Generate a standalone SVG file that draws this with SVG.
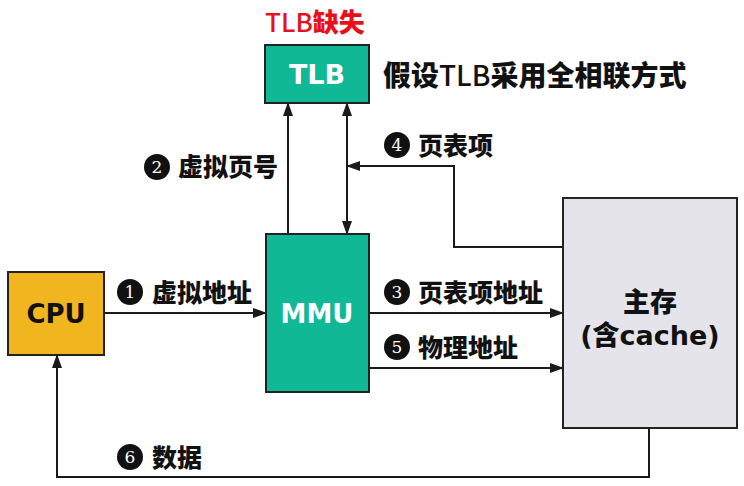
<svg xmlns="http://www.w3.org/2000/svg" width="744" height="486" viewBox="0 0 744 486">
<defs>
<marker id="ah" markerUnits="userSpaceOnUse" markerWidth="14" markerHeight="10" refX="13" refY="5" orient="auto-start-reverse">
<path d="M0,0 L14,5 L0,10 Z" fill="#1a1a1a"/>
</marker>
</defs>
<style>
.box{stroke:#222;stroke-width:2}
.ln{fill:none;stroke:#1a1a1a;stroke-width:2}
.lbl{font-family:"Noto Sans CJK SC","Noto Sans",sans-serif;font-weight:900;font-size:25px;fill:#111}
.num{font-family:"DejaVu Serif","Liberation Serif",serif;font-size:17px;fill:#fff;text-anchor:middle}
.big{font-family:"DejaVu Sans","Noto Sans CJK SC",sans-serif;font-weight:700;text-anchor:middle}
</style>
<rect width="744" height="486" fill="#fff"/>

<g id="connectors">
<line class="ln" x1="104" y1="313" x2="266" y2="313" marker-end="url(#ah)"/>
<line class="ln" x1="288" y1="234" x2="288" y2="103" marker-end="url(#ah)"/>
<line class="ln" x1="347" y1="234" x2="347" y2="103" marker-start="url(#ah)" marker-end="url(#ah)"/>
<polyline class="ln" points="563,247 454,247 454,166 347,166" marker-end="url(#ah)"/>
<line class="ln" x1="369" y1="313" x2="563" y2="313" marker-end="url(#ah)"/>
<line class="ln" x1="369" y1="368" x2="563" y2="368" marker-end="url(#ah)"/>
<polyline class="ln" points="649,428 649,477 57,477 57,355" marker-end="url(#ah)"/>
</g>

<g id="cpu">
<rect class="box" x="8" y="272" width="96" height="83" fill="#f1b51f"/>
<text class="big" x="56" y="323" font-size="26" fill="#111">CPU</text>
</g>

<g id="mmu">
<rect class="box" x="266" y="234" width="103" height="158" fill="#10b896"/>
<text class="big" x="317" y="323" font-size="26" fill="#fff">MMU</text>
</g>

<g id="tlb">
<rect class="box" x="265" y="45" width="104" height="58" fill="#10b896"/>
<text class="big" x="317" y="84" font-size="27" fill="#fff">TLB</text>
</g>

<g id="memory">
<rect class="box" x="563" y="198" width="174" height="230" fill="#e4e4ea"/>
<text class="big" x="650" y="312" font-size="27" fill="#111"><tspan font-family="Noto Sans CJK SC" font-weight="900">主存</tspan></text>
<text class="big" x="650" y="345" font-size="27" fill="#111">(<tspan font-family="Noto Sans CJK SC" font-weight="900">含</tspan>cache)</text>
</g>

<g id="notes">
<text x="265" y="32" font-family="Noto Sans CJK SC,sans-serif" font-size="26" fill="#e5121b"><tspan font-weight="500">TLB</tspan><tspan font-weight="900">缺失</tspan></text>
<text x="383" y="86" font-family="Noto Sans CJK SC,sans-serif" font-size="28" fill="#111"><tspan font-weight="900">假设</tspan><tspan font-weight="500">TLB</tspan><tspan font-weight="900">采用全相联方式</tspan></text>
</g>

<g id="labels">
<circle cx="130" cy="292" r="13" fill="#111"/><text class="num" x="130" y="298">1</text>
<text class="lbl" x="152" y="301.5">虚拟地址</text>
<circle cx="157" cy="167" r="13" fill="#111"/><text class="num" x="157" y="173">2</text>
<text class="lbl" x="178" y="176">虚拟页号</text>
<circle cx="397" cy="292" r="13" fill="#111"/><text class="num" x="397" y="298">3</text>
<text class="lbl" x="418" y="301.5">页表项地址</text>
<circle cx="397" cy="145" r="13" fill="#111"/><text class="num" x="397" y="151">4</text>
<text class="lbl" x="418" y="154.5">页表项</text>
<circle cx="397" cy="347" r="13" fill="#111"/><text class="num" x="397" y="353">5</text>
<text class="lbl" x="418" y="356.5">物理地址</text>
<circle cx="130" cy="457" r="13" fill="#111"/><text class="num" x="130" y="463">6</text>
<text class="lbl" x="152" y="466.5">数据</text>
</g>
</svg>
